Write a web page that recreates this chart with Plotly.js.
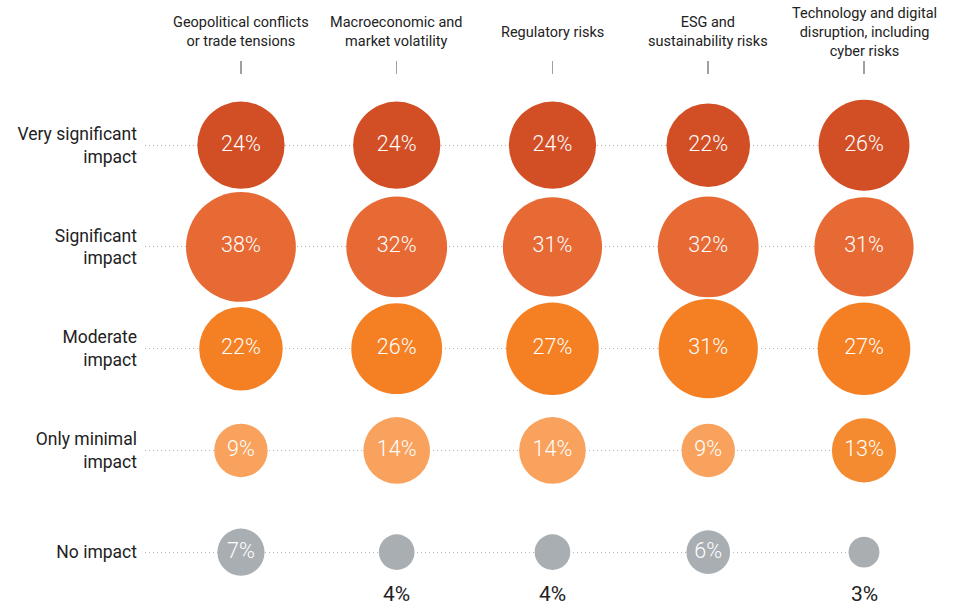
<!DOCTYPE html>
<html>
<head>
<meta charset="utf-8">
<script src="https://cdn.plot.ly/plotly-3.0.1.min.js"></script>
<style>html,body{margin:0;padding:0;background:#fff;}#chart{width:955px;height:605px;}</style>
</head>
<body>
<div id="chart"></div>
<script>
// ---- data ----
var categories = [
  "Geopolitical conflicts<br>or trade tensions",
  "Macroeconomic and<br>market volatility",
  "Regulatory risks",
  "ESG and<br>sustainability risks",
  "Technology and digital<br>disruption, including<br>cyber risks"
];
var levels = [
  "Very significant<br>impact",
  "Significant<br>impact",
  "Moderate<br>impact",
  "Only minimal<br>impact",
  "No impact"
];
var verySignificant = [24, 24, 24, 22, 26];
var significant     = [38, 32, 31, 32, 31];
var moderate        = [22, 26, 27, 31, 27];
var onlyMinimal     = [9, 14, 14, 9, 13];
var noImpact        = [7, 4, 4, 6, 3];

// ---- styles ----
var seriesValues = [verySignificant, significant, moderate, onlyMinimal, noImpact];
var seriesColors = [
  ["#d24f26","#d24f26","#d24f26","#d24f26","#d24f26"],
  ["#e76a35","#e76a35","#e76a35","#e76a35","#e76a35"],
  ["#f58024","#f58024","#f58024","#f58024","#f58024"],
  ["#f8a25d","#f8a25d","#f8a25d","#f8a25d","#f58b30"],
  ["#a9aeb2","#a9aeb2","#a9aeb2","#a9aeb2","#a9aeb2"]
];
var insideMin = 5;
var FONT = "Roboto, 'Liberation Sans', sans-serif";

var traces = seriesValues.map(function (vals, i) {
  return {
    type: "scatter",
    mode: "markers+text",
    x: categories,
    y: categories.map(function () { return levels[i]; }),
    text: vals.map(function (v) { return v >= insideMin ? v + "%" : ""; }),
    textposition: "middle center",
    textfont: { family: FONT, size: 21.5, color: "#ffffff", weight: 300 },
    marker: {
      size: vals,
      sizemode: "area",
      sizeref: 0.0063,
      color: seriesColors[i],
      opacity: 1,
      line: { width: 0 }
    },
    cliponaxis: false,
    hoverinfo: "skip",
    showlegend: false
  };
});

var annotations = [];
categories.forEach(function (c) {
  annotations.push({
    x: c, xref: "x", y: 1.0817, yref: "paper",
    text: c, showarrow: false, xanchor: "center", yanchor: "middle",
    font: { family: FONT, size: 14.5, color: "#222222" }
  });
});
seriesValues.forEach(function (vals, i) {
  vals.forEach(function (v, j) {
    if (v < insideMin) {
      annotations.push({
        x: categories[j], xref: "x", y: levels[i], yref: "y",
        text: v + "%", showarrow: false, yshift: -42,
        font: { family: FONT, size: 21, color: "#222222" }
      });
    }
  });
});

var layout = {
  width: 955, height: 605,
  margin: { l: 145, r: 91, t: 75, b: 4 },
  paper_bgcolor: "#ffffff", plot_bgcolor: "#ffffff",
  xaxis: {
    type: "category", categoryorder: "array", categoryarray: categories,
    range: [-0.616, 4], side: "top",
    showgrid: false, zeroline: false, showline: false,
    ticks: "outside", ticklen: 13, tickwidth: 1.5, tickcolor: "#a0a0a0",
    showticklabels: false, fixedrange: true
  },
  yaxis: {
    type: "category", categoryorder: "array", categoryarray: levels,
    range: [4.48, -0.69],
    showgrid: true, gridcolor: "#b5b5b5", gridwidth: 1, griddash: "1px,3px",
    zeroline: false, showline: false, ticks: "",
    ticklabelstandoff: 7,
    tickfont: { family: FONT, size: 17.5, color: "#222222" },
    fixedrange: true
  },
  annotations: annotations,
  font: { family: FONT }
};

Plotly.newPlot("chart", traces, layout, { displayModeBar: false, staticPlot: true });
</script>
</body>
</html>
